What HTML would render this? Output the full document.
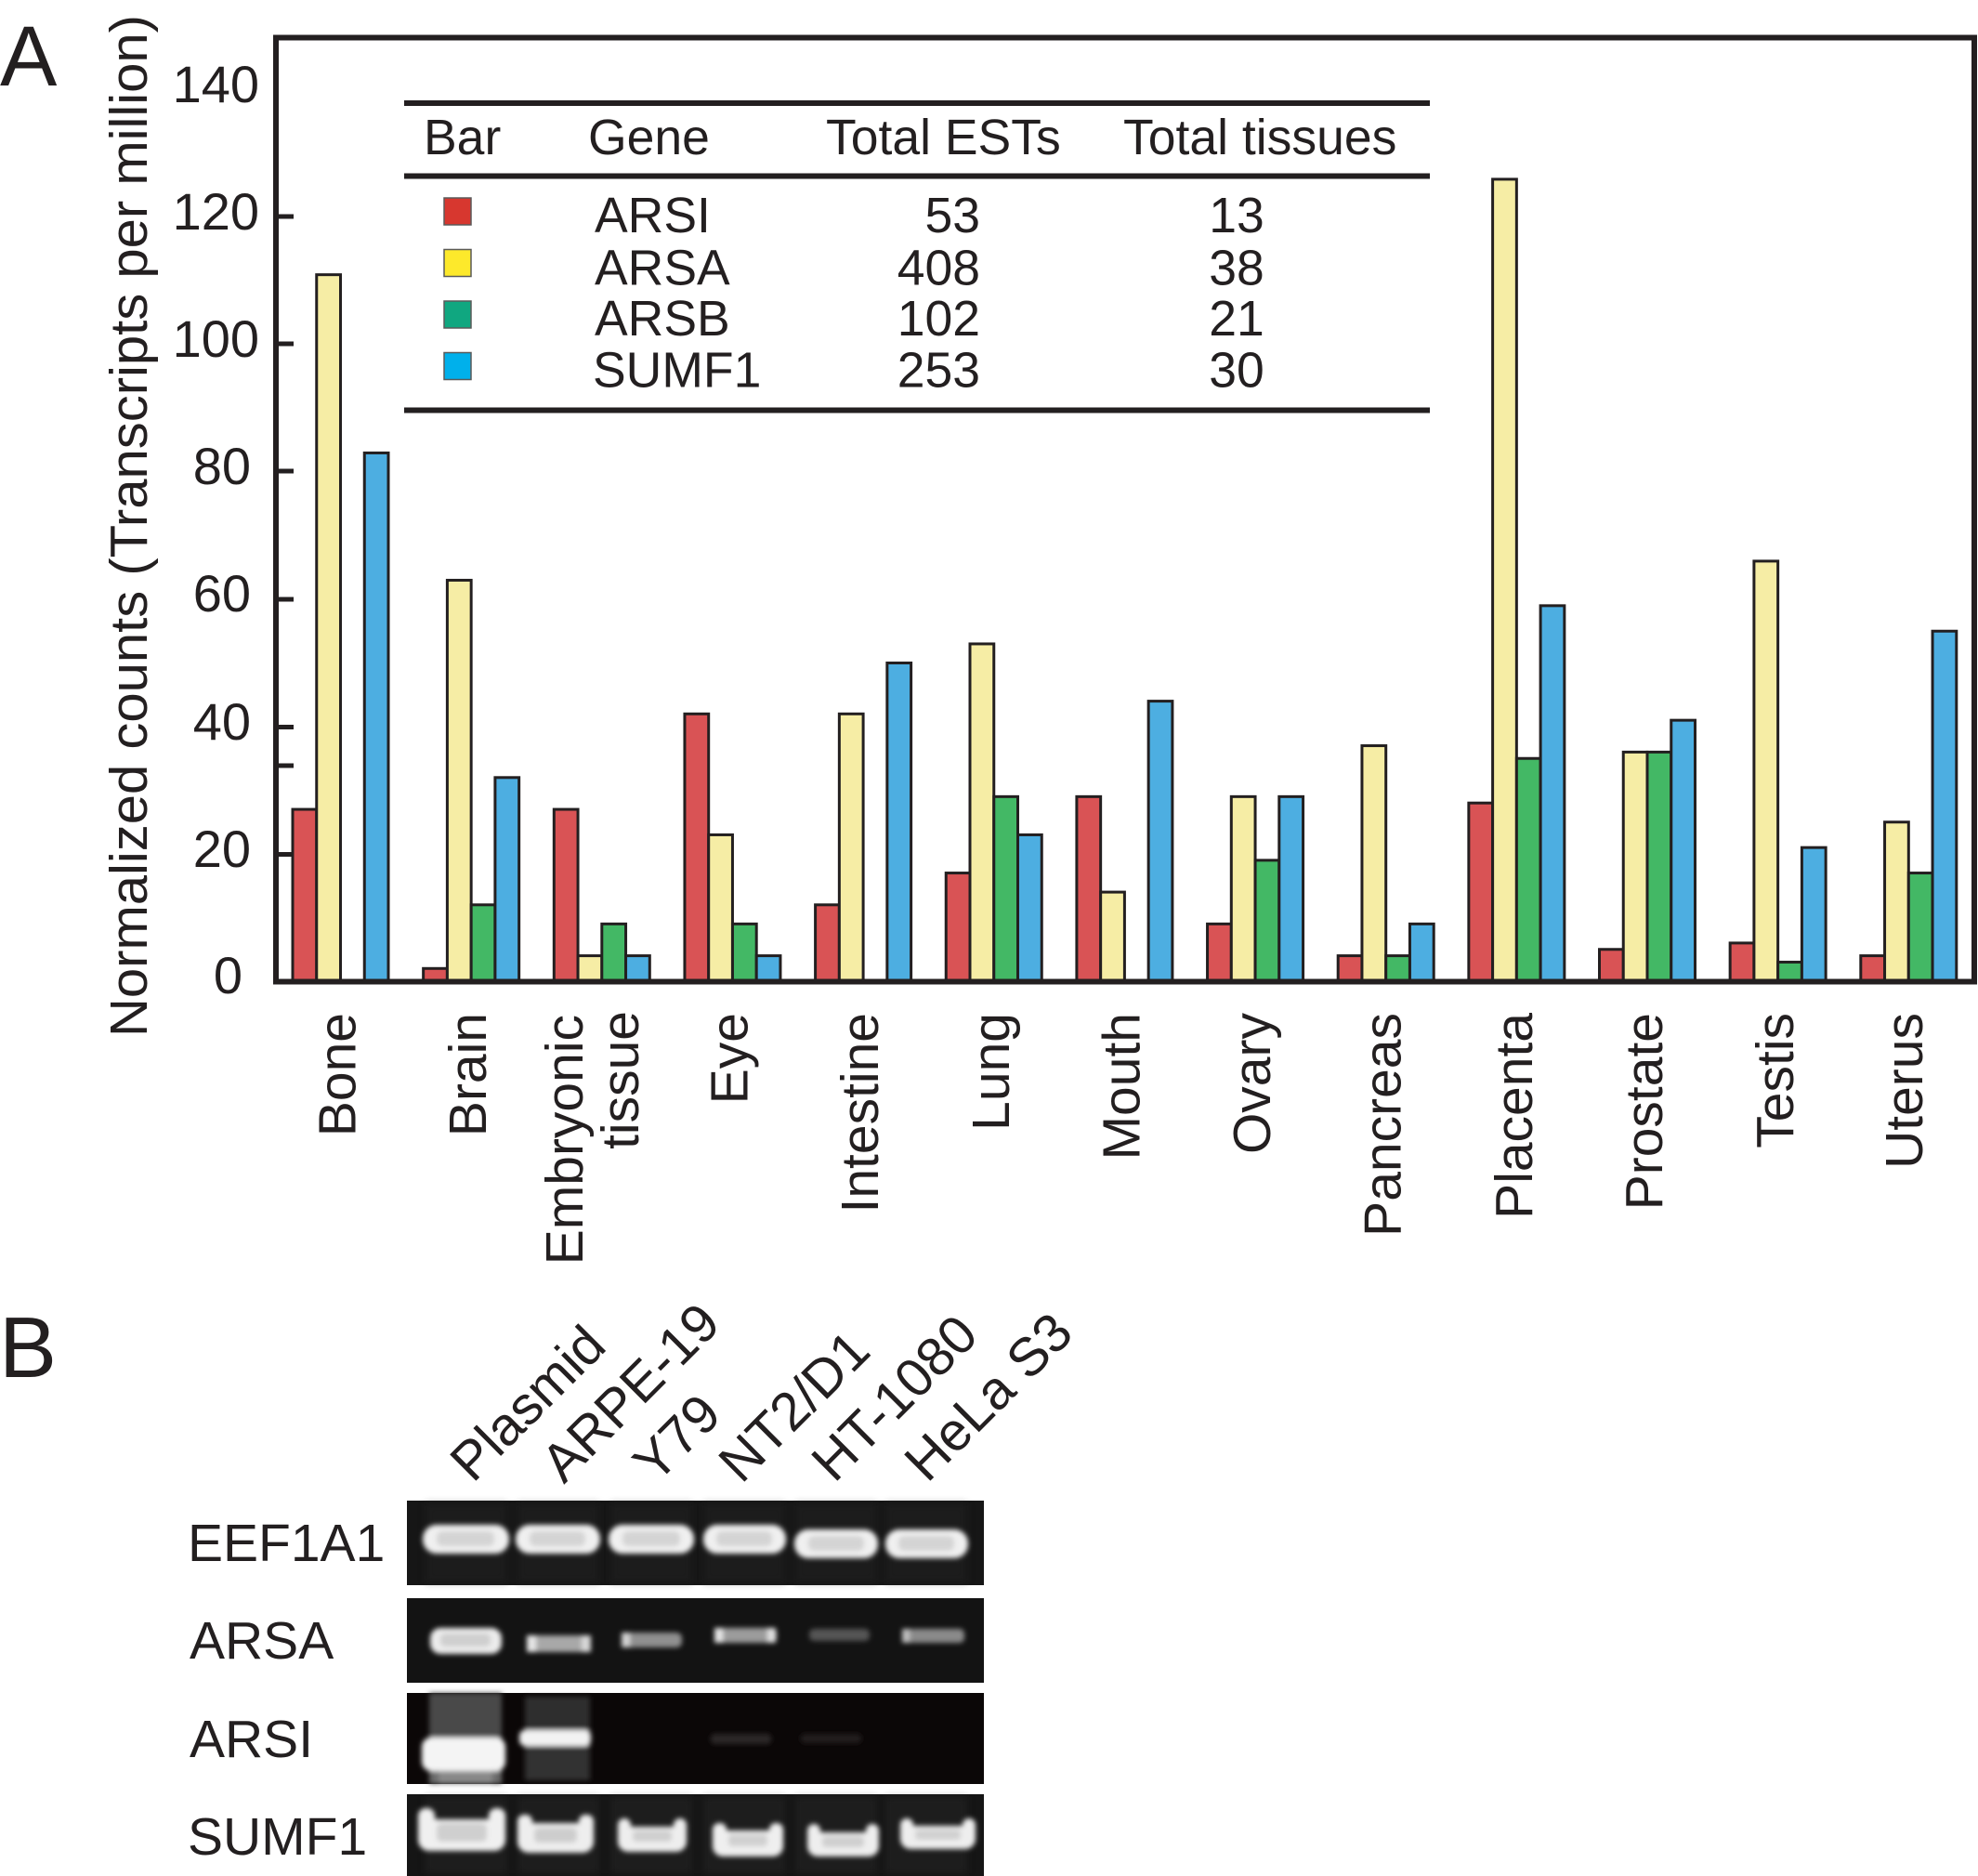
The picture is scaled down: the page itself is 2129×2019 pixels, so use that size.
<!DOCTYPE html>
<html>
<head>
<meta charset="utf-8">
<style>
html,body{margin:0;padding:0;background:#ffffff;}
svg{display:block;}
</style>
</head>
<body>
<svg width="2129" height="2019" viewBox="0 0 2129 2019" xmlns="http://www.w3.org/2000/svg" font-family="'Liberation Sans', Arial, Helvetica, sans-serif">
<defs>
  <filter id="bl" x="-20%" y="-50%" width="140%" height="200%">
    <feGaussianBlur stdDeviation="2.6"/>
  </filter>
  <filter id="bl2" x="-20%" y="-50%" width="140%" height="200%">
    <feGaussianBlur stdDeviation="4"/>
  </filter>
</defs>
<rect x="0" y="0" width="2129" height="2019" fill="#ffffff"/>

<!-- Panel letters -->
<text x="0" y="92" font-size="92" fill="#231f20">A</text>
<text x="-1" y="1482" font-size="93" fill="#231f20">B</text>

<!-- Y axis title -->
<text transform="translate(158,16) rotate(-90)" text-anchor="end" font-size="57" fill="#231f20" textLength="1100" lengthAdjust="spacingAndGlyphs">Normalized counts (Transcripts per million)</text>

<!-- Y tick labels -->
<g font-size="56" fill="#231f20" text-anchor="end">
  <text x="279" y="110">140</text>
  <text x="279" y="247">120</text>
  <text x="279" y="384">100</text>
  <text x="270" y="521">80</text>
  <text x="270" y="658">60</text>
  <text x="270" y="796">40</text>
  <text x="270" y="933">20</text>
  <text x="261" y="1069">0</text>
</g>

<!-- Bars -->
<g stroke="#231f20" stroke-width="3">
  <!-- Bone -->
  <rect x="315" y="871.05" width="25.75" height="184.95" fill="#d95355"/>
  <rect x="340.75" y="295.65" width="25.75" height="760.35" fill="#f6eda5"/>
  <rect x="392.25" y="487.45" width="25.75" height="568.55" fill="#4daee1"/>
  <!-- Brain -->
  <rect x="455.65" y="1042.3" width="25.75" height="13.7" fill="#d95355"/>
  <rect x="481.4" y="624.45" width="25.75" height="431.55" fill="#f6eda5"/>
  <rect x="507.15" y="973.8" width="25.75" height="82.2" fill="#43b865"/>
  <rect x="532.9" y="836.8" width="25.75" height="219.2" fill="#4daee1"/>
  <!-- Embryonic -->
  <rect x="596.3" y="871.05" width="25.75" height="184.95" fill="#d95355"/>
  <rect x="622.05" y="1028.6" width="25.75" height="27.4" fill="#f6eda5"/>
  <rect x="647.8" y="994.35" width="25.75" height="61.65" fill="#43b865"/>
  <rect x="673.55" y="1028.6" width="25.75" height="27.4" fill="#4daee1"/>
  <!-- Eye -->
  <rect x="736.95" y="768.3" width="25.75" height="287.7" fill="#d95355"/>
  <rect x="762.7" y="898.45" width="25.75" height="157.55" fill="#f6eda5"/>
  <rect x="788.45" y="994.35" width="25.75" height="61.65" fill="#43b865"/>
  <rect x="814.2" y="1028.6" width="25.75" height="27.4" fill="#4daee1"/>
  <!-- Intestine -->
  <rect x="877.6" y="973.8" width="25.75" height="82.2" fill="#d95355"/>
  <rect x="903.35" y="768.3" width="25.75" height="287.7" fill="#f6eda5"/>
  <rect x="954.85" y="713.5" width="25.75" height="342.5" fill="#4daee1"/>
  <!-- Lung -->
  <rect x="1018.25" y="939.55" width="25.75" height="116.45" fill="#d95355"/>
  <rect x="1044" y="692.95" width="25.75" height="363.05" fill="#f6eda5"/>
  <rect x="1069.75" y="857.35" width="25.75" height="198.65" fill="#43b865"/>
  <rect x="1095.5" y="898.45" width="25.75" height="157.55" fill="#4daee1"/>
  <!-- Mouth -->
  <rect x="1158.9" y="857.35" width="25.75" height="198.65" fill="#d95355"/>
  <rect x="1184.65" y="960.1" width="25.75" height="95.9" fill="#f6eda5"/>
  <rect x="1236.15" y="754.6" width="25.75" height="301.4" fill="#4daee1"/>
  <!-- Ovary -->
  <rect x="1299.55" y="994.35" width="25.75" height="61.65" fill="#d95355"/>
  <rect x="1325.3" y="857.35" width="25.75" height="198.65" fill="#f6eda5"/>
  <rect x="1351.05" y="925.85" width="25.75" height="130.15" fill="#43b865"/>
  <rect x="1376.8" y="857.35" width="25.75" height="198.65" fill="#4daee1"/>
  <!-- Pancreas -->
  <rect x="1440.2" y="1028.6" width="25.75" height="27.4" fill="#d95355"/>
  <rect x="1465.95" y="802.55" width="25.75" height="253.45" fill="#f6eda5"/>
  <rect x="1491.7" y="1028.6" width="25.75" height="27.4" fill="#43b865"/>
  <rect x="1517.45" y="994.35" width="25.75" height="61.65" fill="#4daee1"/>
  <!-- Placenta -->
  <rect x="1580.85" y="864.2" width="25.75" height="191.8" fill="#d95355"/>
  <rect x="1606.6" y="192.9" width="25.75" height="863.1" fill="#f6eda5"/>
  <rect x="1632.35" y="816.25" width="25.75" height="239.75" fill="#43b865"/>
  <rect x="1658.1" y="651.85" width="25.75" height="404.15" fill="#4daee1"/>
  <!-- Prostate -->
  <rect x="1721.5" y="1021.75" width="25.75" height="34.25" fill="#d95355"/>
  <rect x="1747.25" y="809.4" width="25.75" height="246.6" fill="#f6eda5"/>
  <rect x="1773" y="809.4" width="25.75" height="246.6" fill="#43b865"/>
  <rect x="1798.75" y="775.15" width="25.75" height="280.85" fill="#4daee1"/>
  <!-- Testis -->
  <rect x="1862.15" y="1014.9" width="25.75" height="41.1" fill="#d95355"/>
  <rect x="1887.9" y="603.9" width="25.75" height="452.1" fill="#f6eda5"/>
  <rect x="1913.65" y="1035.45" width="25.75" height="20.55" fill="#43b865"/>
  <rect x="1939.4" y="912.15" width="25.75" height="143.85" fill="#4daee1"/>
  <!-- Uterus -->
  <rect x="2002.8" y="1028.6" width="25.75" height="27.4" fill="#d95355"/>
  <rect x="2028.55" y="884.75" width="25.75" height="171.25" fill="#f6eda5"/>
  <rect x="2054.3" y="939.55" width="25.75" height="116.45" fill="#43b865"/>
  <rect x="2080.05" y="679.25" width="25.75" height="376.75" fill="#4daee1"/>
</g>

<!-- Frame -->
<g stroke="#231f20" fill="none">
  <line x1="297" y1="40.5" x2="2125" y2="40.5" stroke-width="6"/>
  <line x1="297" y1="37.5" x2="297" y2="1059" stroke-width="6"/>
  <line x1="2125" y1="37.5" x2="2125" y2="1059" stroke-width="6"/>
  <line x1="294" y1="1056.5" x2="2128" y2="1056.5" stroke-width="6"/>
  <!-- ticks -->
  <g stroke-width="5">
    <line x1="297" y1="233" x2="316" y2="233"/>
    <line x1="297" y1="370" x2="316" y2="370"/>
    <line x1="297" y1="507" x2="316" y2="507"/>
    <line x1="297" y1="645" x2="316" y2="645"/>
    <line x1="297" y1="782.5" x2="316" y2="782.5"/>
    <line x1="297" y1="824" x2="316" y2="824"/>
    <line x1="297" y1="919.5" x2="316" y2="919.5"/>
  </g>
</g>

<!-- Legend table -->
<g stroke="#231f20" stroke-width="6">
  <line x1="435" y1="111" x2="1539" y2="111"/>
  <line x1="435" y1="189.5" x2="1539" y2="189.5"/>
  <line x1="435" y1="441.5" x2="1539" y2="441.5"/>
</g>
<g font-size="53.5" fill="#231f20">
  <text x="456" y="166">Bar</text>
  <text x="633" y="166">Gene</text>
  <text x="889" y="166">Total ESTs</text>
  <text x="1209" y="166">Total tissues</text>
  <text x="640" y="250">ARSI</text>
  <text x="640" y="306.5">ARSA</text>
  <text x="640" y="361">ARSB</text>
  <text x="638" y="416.5">SUMF1</text>
  <g text-anchor="end">
    <text x="1055" y="250">53</text>
    <text x="1055" y="306.5">408</text>
    <text x="1055" y="361">102</text>
    <text x="1055" y="416.5">253</text>
  </g>
  <g text-anchor="middle">
    <text x="1331" y="250">13</text>
    <text x="1331" y="306.5">38</text>
    <text x="1331" y="361">21</text>
    <text x="1331" y="416.5">30</text>
  </g>
</g>
<g stroke="#5a5a5a" stroke-width="1.5">
  <rect x="478" y="213" width="29" height="29" fill="#d7372f"/>
  <rect x="478" y="268.5" width="29" height="29" fill="#fde92b"/>
  <rect x="478" y="324" width="29" height="29" fill="#10a780"/>
  <rect x="478" y="379.5" width="29" height="29" fill="#00b0eb"/>
</g>

<!-- X labels -->
<g font-size="57" fill="#231f20" text-anchor="end">
  <text transform="translate(382.5,1090) rotate(-90)">Bone</text>
  <text transform="translate(523,1090) rotate(-90)">Brain</text>
  <text transform="translate(627,1092) rotate(-90)">Embryonic</text>
  <text transform="translate(687,1088) rotate(-90)">tissue</text>
  <text transform="translate(804.5,1090) rotate(-90)">Eye</text>
  <text transform="translate(945,1090) rotate(-90)">Intestine</text>
  <text transform="translate(1085.8,1090) rotate(-90)">Lung</text>
  <text transform="translate(1226.4,1090) rotate(-90)">Mouth</text>
  <text transform="translate(1367,1090) rotate(-90)">Ovary</text>
  <text transform="translate(1507.7,1090) rotate(-90)">Pancreas</text>
  <text transform="translate(1649,1090) rotate(-90)">Placenta</text>
  <text transform="translate(1789,1090) rotate(-90)">Prostate</text>
  <text transform="translate(1930,1090) rotate(-90)">Testis</text>
  <text transform="translate(2069,1090) rotate(-90)">Uterus</text>
</g>

<!-- Panel B column labels -->
<g font-size="58" fill="#231f20">
  <text transform="translate(509,1597) rotate(-45)">Plasmid</text>
  <text transform="translate(607,1598) rotate(-45)">ARPE-19</text>
  <text transform="translate(706,1598) rotate(-45)">Y79</text>
  <text transform="translate(798,1598) rotate(-45)">NT2/D1</text>
  <text transform="translate(898,1597) rotate(-45)">HT-1080</text>
  <text transform="translate(998,1597) rotate(-45)">HeLa S3</text>
</g>

<!-- Panel B row labels -->
<g font-size="57" fill="#231f20">
  <text x="202" y="1680">EEF1A1</text>
  <text x="204" y="1785">ARSA</text>
  <text x="204" y="1891">ARSI</text>
  <text x="202" y="1996">SUMF1</text>
</g>

<!-- Gel rows -->
<rect x="438" y="1615" width="621" height="91" fill="#161616"/>
<rect x="438" y="1720" width="621" height="91" fill="#131313"/>
<rect x="438" y="1822" width="621" height="98" fill="#0b0707"/>
<rect x="438" y="1931" width="621" height="88" fill="#151515"/>

<!-- lane haze -->
<g filter="url(#bl2)" opacity="0.5">
  <rect x="458" y="1618" width="88" height="85" fill="#222"/>
  <rect x="557" y="1618" width="88" height="85" fill="#222"/>
  <rect x="657" y="1618" width="88" height="85" fill="#222"/>
  <rect x="757" y="1618" width="88" height="85" fill="#222"/>
  <rect x="856" y="1618" width="88" height="85" fill="#222"/>
  <rect x="953" y="1618" width="88" height="85" fill="#222"/>
  <rect x="458" y="1934" width="88" height="82" fill="#262626"/>
  <rect x="557" y="1934" width="88" height="82" fill="#262626"/>
  <rect x="657" y="1934" width="88" height="82" fill="#262626"/>
  <rect x="757" y="1934" width="88" height="82" fill="#262626"/>
  <rect x="856" y="1934" width="88" height="82" fill="#262626"/>
  <rect x="953" y="1934" width="88" height="82" fill="#262626"/>
</g>

<!-- EEF1A1 bands -->
<g filter="url(#bl)">
  <rect x="455" y="1641" width="93" height="31" rx="15" fill="#f0f0f0"/>
  <rect x="555" y="1641" width="91" height="31" rx="15" fill="#f0f0f0"/>
  <rect x="655" y="1641" width="92" height="31" rx="15" fill="#f0f0f0"/>
  <rect x="757" y="1641" width="89" height="31" rx="15" fill="#f0f0f0"/>
  <rect x="855" y="1646" width="90" height="31" rx="15" fill="#f0f0f0"/>
  <rect x="953" y="1646" width="89" height="31" rx="15" fill="#f0f0f0"/>
  <rect x="470" y="1648" width="62" height="16" rx="6" fill="#d4d4d4"/>
  <rect x="570" y="1648" width="60" height="16" rx="6" fill="#d4d4d4"/>
  <rect x="670" y="1648" width="62" height="16" rx="6" fill="#d4d4d4"/>
  <rect x="771" y="1648" width="60" height="16" rx="6" fill="#d4d4d4"/>
  <rect x="870" y="1653" width="60" height="16" rx="6" fill="#d4d4d4"/>
  <rect x="967" y="1653" width="60" height="16" rx="6" fill="#d4d4d4"/>
</g>

<!-- ARSA bands -->
<g filter="url(#bl)">
  <rect x="463" y="1752" width="77" height="28" rx="11" fill="#ececec"/>
  <rect x="474" y="1758" width="54" height="14" rx="5" fill="#cfcfcf"/>
  <rect x="567" y="1760" width="69" height="18" rx="6" fill="#a8a8a8"/>
  <rect x="567" y="1760" width="10" height="18" fill="#e6e6e6"/>
  <rect x="626" y="1760" width="10" height="18" fill="#d8d8d8"/>
  <rect x="669" y="1757" width="65" height="16" rx="6" fill="#909090"/>
  <rect x="669" y="1757" width="9" height="16" fill="#d4d4d4"/>
  <rect x="769" y="1752" width="67" height="16" rx="6" fill="#9c9c9c"/>
  <rect x="769" y="1752" width="9" height="16" fill="#e6e6e6"/>
  <rect x="826" y="1752" width="9" height="16" fill="#e0e0e0"/>
  <rect x="871" y="1753" width="65" height="13" rx="5" fill="#555555"/>
  <rect x="971" y="1753" width="67" height="15" rx="5" fill="#8a8a8a"/>
  <rect x="971" y="1753" width="8" height="15" fill="#c0c0c0"/>
</g>

<!-- ARSI bands -->
<g filter="url(#bl)">
  <rect x="462" y="1822" width="78" height="52" fill="#4a4a4a"/>
  <rect x="462" y="1902" width="78" height="18" fill="#6a6a6a"/>
  <rect x="472" y="1902" width="58" height="18" fill="#888888"/>
  <rect x="565" y="1826" width="70" height="38" fill="#2e2e2e"/>
  <rect x="565" y="1876" width="70" height="40" fill="#333333"/>
  <rect x="454" y="1870" width="90" height="36" rx="10" fill="#f4f4f4"/>
  <rect x="559" y="1862" width="77" height="17" rx="6" fill="#f2f2f2"/>
  <rect x="765" y="1866" width="65" height="11" rx="4" fill="#2c2828"/>
  <rect x="862" y="1866" width="65" height="10" rx="4" fill="#211d1d"/>
</g>

<!-- SUMF1 bands -->
<g filter="url(#bl)">
  <rect x="450" y="1958" width="94" height="34" rx="12" fill="#f0f0f0"/>
  <rect x="450" y="1946" width="18" height="30" rx="8" fill="#f0f0f0"/>
  <rect x="526" y="1946" width="18" height="30" rx="8" fill="#f0f0f0"/>
  <rect x="470" y="1962" width="54" height="20" rx="5" fill="#cfcfcf"/>

  <rect x="557" y="1962" width="82" height="32" rx="12" fill="#eeeeee"/>
  <rect x="557" y="1953" width="16" height="28" rx="7" fill="#eeeeee"/>
  <rect x="623" y="1953" width="16" height="28" rx="7" fill="#eeeeee"/>
  <rect x="575" y="1967" width="46" height="16" rx="5" fill="#cdcdcd"/>

  <rect x="665" y="1966" width="74" height="27" rx="11" fill="#eeeeee"/>
  <rect x="665" y="1957" width="14" height="26" rx="7" fill="#eeeeee"/>
  <rect x="725" y="1957" width="14" height="26" rx="7" fill="#eeeeee"/>
  <rect x="681" y="1970" width="42" height="12" rx="4" fill="#cfcfcf"/>

  <rect x="767" y="1970" width="76" height="28" rx="11" fill="#efefef"/>
  <rect x="767" y="1962" width="15" height="26" rx="7" fill="#efefef"/>
  <rect x="828" y="1962" width="15" height="26" rx="7" fill="#efefef"/>
  <rect x="784" y="1974" width="42" height="13" rx="4" fill="#d0d0d0"/>

  <rect x="869" y="1972" width="77" height="26" rx="11" fill="#eeeeee"/>
  <rect x="869" y="1963" width="14" height="25" rx="7" fill="#eeeeee"/>
  <rect x="932" y="1963" width="14" height="25" rx="7" fill="#eeeeee"/>
  <rect x="885" y="1976" width="45" height="12" rx="4" fill="#cfcfcf"/>

  <rect x="969" y="1965" width="81" height="25" rx="11" fill="#eeeeee"/>
  <rect x="969" y="1957" width="14" height="24" rx="7" fill="#eeeeee"/>
  <rect x="1036" y="1957" width="14" height="24" rx="7" fill="#eeeeee"/>
  <rect x="985" y="1969" width="49" height="11" rx="4" fill="#d0d0d0"/>
</g>
</svg>
</body>
</html>
